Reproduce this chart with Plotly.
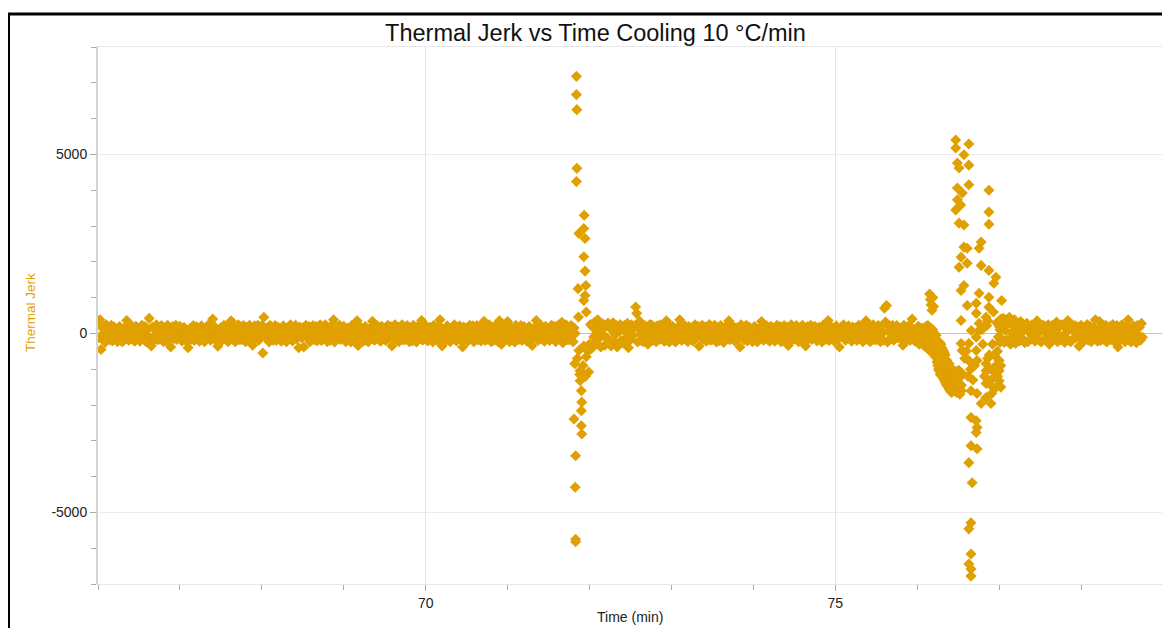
import numpy as np
import plotly.graph_objects as go

# ---------------- data ----------------
SAMPLE_MIN = 0.0125  # logger sampling interval, minutes

band_a_start = 66.0
band_a_jerk = [
    350, -120, 380, -450, 160, -130, 20, -250, 240, -90, 130, -180, 60, 230, -210, -10, 180, -150, 100, -230,
    -50, 190, -200, 130, -230, 30, 160, -120, 360, -30, -190, 150, -80, 210, -170, 90, -220, 200, 10, -150,
    140, -220, 70, 230, -110, -40, 190, -230, 120, -70, 420, -160, -350, 170, -210, 110, -60, 240, -180, 80,
    -160, 100, 220, -50, -230, 150, 20, -210, 230, -100, 150, -380, 40, 190, -150, -30, 230, -170, 110, -80,
    200, -50, -210, 100, 170, -120, 30, -240, -400, -80, 140, -170, 70, 220, -200, 0, 190, -140, 90, -220,
    -70, 210, -180, 110, -230, 50, 160, -100, 240, -30, -190, 130, 400, 210, -150, 70, -220, -360, 10, -130,
    160, -200, 50, 230, -130, -20, 210, -230, 100, -90, 350, -160, 40, 170, -230, 130, -40, 240, -180, 60,
    -180, 80, 220, -70, -230, 170, 0, -190, 230, -120, 130, -330, 60, 210, -130, -30, 230, -190, 90, -100,
    220, -550, 450, 80, 150, -140, 30, -240, 230, -80, 140, -190, 50, 220, -200, -20, 170, -160, 110, -220,
    -50, 210, -180, 130, -230, 30, 180, -100, 240, -30, -210, 150, -60, 230, -150, 70, -400, 180, 10, -130,
    160, -380, 50, 230, -110, -40, 190, -230, 120, -70, 220, -180, 40, 190, -210, 110, -60, 240, -200, 60,
    -160, 80, 240, -50, -230, 150, 20, -190, 210, -120, 380, -240, 60, 190, -150, -10, 230, -170, 90, -100,
    200, -30, -230, 100, 150, -120, 30, -240, 230, -100, 140, -170, 50, 350, -340, 0, 190, -160, 110, -220,
    -70, 190, -200, 110, -230, 50, 160, -120, 340, -10, -190, 130, -80, 210, -170, 90, -220, 200, 10, -150,
    140, -200, 70, 230, -130, -20, 190, -350, 100, -90, 240, -160, 20, 170, -230, 110, -40, 240, -180, 80,
    -180, 100, 220, -70, -230, 150, 0, -210, 230, -100, 130, -240, 40, 210, -130, -30, 360, -190, 90, -80,
    220, -50, -210, 80, 170, -140, 30, -240, 230, -80, 120, -190, 70, 220, 380, 0, -350, -140, 110, -220,
    -50, 210, -180, 130, -230, 30, 180, -120, 240, -30, -210, 150, -60, 210, -170, 90, -380, 180, 0, -130,
    160, -220, 50, 230, -110, -40, 210, -230, 120, -70, 220, -180, 40, 190, -210, 130, -60, 340, -200, 60,
    -160, 80, 240, -50, -230, 170, 20, -190, 210, -120, 150, -240, 350, 190, -300, -10, 230, -170, 100, -100,
    330, -30, -230, 100, 150, -120, 30, -240, 230, -100, 140, -170, 50, 220, -200, 0, 190, -160, 110, -220,
    -70, 190, -200, 110, -340, 50, 160, -120, 360, -10, -190, 130, -80, 210, -170, 90, -220, 200, 10, -150,
    140, -200, 70, 230, -130, -20, 190, -230, 100, -90, 240, -160, 20, 310, -260, 110, -40, 240, -180, 80,
    -180, 100, 220, -70, -230, 150, 0,
]

band_b_start = 72.0
band_b_jerk = [
    -300, 250, -420, 180, -100, 320, -250, 20, 380, -150, 210, -380, 140, 260, -60, -330, 200, -120, 290, -260,
    170, -350, 90, 300, -220, -40, 230, -380, 160, 60, 250, -200, 110, -270, 220, -150, 30, 280, -400, 190,
    -180, 240, -60, 120, 210, 740, 560, -240, 150, 340, -20, -210, 90, -230, 220, -100, 180, -300, 40, 250,
    -110, 230, -190, 160, -30, -230, 210, 70, -170, 240, -140, 180, 0, -220, 120, 350, -200, 90, -240, 190,
    -60, 200, -190, 120, -240, 40, 170, -110, 380, -20, -200, 140, -70, 220, -160, 80, -230, 190, 0, -140,
    150, -210, 60, 240, -120, -30, 200, -360, 110, -80, 230, -170, 30, 180, -220, 120, -50, 250, -190, 70,
    -170, 90, 230, -60, -240, 160, 10, -200, 220, -110, 140, -250, 50, 200, -140, -20, 350, -180, 100, -90,
    210, -40, -220, 90, 160, -130, 20, -380, 240, -90, 130, -180, 60, 230, -210, -10, 180, -150, 100, -230,
    -50, 190, -200, 130, -230, 30, 160, -120, 330, -30, -190, 150, -80, 210, -170, 90, -220, 200, 10, -150,
    140, -220, 70, 230, -110, -40, 190, -230, 120, -70, 220, -160, 40, 170, -340, 110, -60, 240, -180, 80,
    -160, 100, 220, -50, -230, 150, 20, -210, 230, -100, 150, -350, 40, 190, -150, -30, 230, -170, 110, -80,
    200, -50, -210, 100, 170, -120, 30, -240, 230, -80, 140, -170, 70, 360, -200, 0, 190, -140, 90, -220,
    -70, 210, -180, 110, -380, 50, 160, -100, 240, -30, -190, 130, -60, 210, -150, 70, -220, 180, 10, -130,
    160, -200, 50, 230, -130, -20, 210, -230, 100, -90, 350, -160, 40, 170, -230, 130, -40, 240, -180, 60,
    -180, 80, 220, -70, -230, 170, 0, -190, 700, 320, 780, -240, 60, 210, -130, -30, 230, -190, 90, -100,
    220, -130, 50, 150, -140, 30, -330, 230, -80, 140, -190, 50, 220, -200, -20, 400, -160, 110, -220, -50,
    -100, 200, -300, 50, -250, 150, -80, -350, 100,
]

band_c_start = 77.05
band_c_jerk = [
    420, -250, 80, 380, -180, 300, 450, -300, 20, 220, -150, 380, -280, 170, -40, 240, -210, 330, -120, 60,
    200, -260, 150, 280, -230, 30, 190, -160, 240, -80, 210, -220, 130, 350, -10, -190, 180, -240, 110, 230,
    -170, 40, 200, -90, 240, -300, 160, -210, 230, 0, -140, 190, 320, -230, 170, -50, -180, 240, -100, 210,
    -250, 150, 30, 360, -200, 120, -230, 250, -160, 60, 220, -120, -10, 180, -360, 90, 230, -170, 30, -210,
    140, -60, 250, -190, 80, 200, -230, 10, 170, -140, 380, -80, -220, 120, 330, -200, 60, 210, -160, -30,
    230, -240, 100, -100, 190, -180, 40, 250, -210, 130, -50, 220, -380, 160, 0, -170, 240, -120, 80, -230,
    190, -20, 380, -200, 120, -240, 50, 210, -150, 90, -260, 230, -60, 170, -190, 280, -110,
]

spike1_time = [71.84, 71.84, 71.845, 71.845, 71.84, 71.935, 71.93, 71.87, 71.945, 71.93,
               71.945, 71.955, 71.86, 71.945, 71.93, 71.96, 71.865, 71.87, 71.82, 71.885,
               71.99, 71.885, 71.90, 71.905, 71.90, 71.81, 71.90, 71.905, 71.83, 71.825,
               71.83, 71.83, 71.93, 71.96, 71.98, 71.92, 71.95, 71.85, 71.88]
spike1_jerk = [7180, 6670, 6250, 4610, 4240, 3300, 2930, 2790, 2650, 2140,
               1740, 1340, 1250, 1060, 920, 600, 460, -480, -850, -1040,
               -1080, -1320, -1600, -1920, -2160, -2390, -2580, -2810, -3420, -4300,
               -5750, -5820, -350, -650, -500, -900, -1200, -700, -1150]

# onset of the second event: the band bends downwards (three strands of points)
onset_time = [76.11, 76.12, 76.13, 76.14, 76.15, 76.16, 76.17, 76.18, 76.19, 76.20,
              76.21, 76.22, 76.23, 76.24, 76.25, 76.26, 76.27, 76.28, 76.29, 76.30,
              76.31, 76.32, 76.33, 76.34, 76.35, 76.36, 76.37, 76.38, 76.39, 76.40,
              76.42, 76.44, 76.46, 76.48, 76.50, 76.52, 76.54]
onset_upper = [200, 150, 220, 100, 180, 50, 120, -50, 100, -100,
               0, -150, -50, -200, -250, -300, -250, -350, -300, -400,
               -450, -500, -550, -600, -800, -750, -850, -900, -850, -950,
               -1000, -1100, -1050, -1200, -1040, -1230, -1100]
onset_middle = [-50, -150, 0, -200, -100, -250, -150, -300, -200, -350,
                -250, -400, -300, -500, -600, -700, -650, -800, -750, -850,
                -900, -950, -1000, -1050, -1150, -1100, -1200, -1250, -1300, -1350,
                -1400, -1450, -1300, -1500, -1400, -1600, -1450]
onset_lower = [-250, -350, -300, -450, -400, -500, -450, -530, -500, -550,
               -500, -650, -600, -800, -900, -1000, -1050, -1150, -1100, -1180,
               -1200, -1250, -1300, -1350, -1400, -1450, -1460, -1500, -1550, -1600,
               -1650, -1600, -1550, -1650, -1550, -1700, -1600]

precursor_time = [76.15, 76.16, 76.17, 76.18, 76.19, 76.20]
precursor_jerk = [1100, 950, 800, 650, 1000, 750]

spike2_up_time = [76.47, 76.63, 76.47, 76.57, 76.49, 76.63, 76.51, 76.63, 76.49, 76.55,
                  76.49, 76.53, 76.47, 76.51, 76.57, 76.875, 76.875, 76.875, 76.78, 76.755,
                  76.57, 76.61, 76.535, 76.51, 76.61, 76.78, 76.875, 76.96, 76.935, 76.57,
                  76.535, 76.755, 76.875, 77.03, 76.61, 76.72, 76.875, 76.72, 76.535, 76.84,
                  76.755, 76.85, 76.66, 76.755]
spike2_up_jerk = [5400, 5290, 5180, 4990, 4760, 4700, 4620, 4150, 4060, 3920,
                  3730, 3590, 3450, 3080, 3030, 4000, 3390, 3050, 2550, 2380,
                  2410, 2380, 2130, 1850, 1960, 1900, 1760, 1570, 1400, 1340,
                  1200, 1120, 1010, 920, 780, 840, 730, 560, 360, 450,
                  280, 220, 80, 80]

spike2_low_time = [76.535, 76.547, 76.63, 76.72, 76.72, 76.63, 76.73, 76.51, 76.45, 76.84,
                   77.00, 76.84, 77.00, 76.486, 76.656, 76.73, 76.84, 76.96, 77.00, 76.84,
                   76.78, 76.90, 76.91, 76.656, 76.72, 76.73, 76.72, 76.656, 76.73, 76.63,
                   76.67, 76.656, 76.63, 76.656, 76.63, 76.656, 76.656, 76.60, 76.65, 76.68,
                   76.70, 76.80, 76.82, 76.88, 76.92, 76.95, 76.98, 77.00, 77.02, 76.58,
                   76.62, 76.79, 76.86, 76.93, 76.97, 76.99, 76.86, 76.88, 76.90, 76.92,
                   76.94, 76.96, 76.98, 77.02, 77.02]
spike2_low_jerk = [-280, -480, -280, -110, -480, -760, -760, -1040, -1230, -850,
                   -760, -1040, -1040, -1600, -1600, -1680, -1400, -1510, -1320, -1790,
                   -1960, -1960, -1680, -2350, -2440, -2630, -2770, -3140, -3220, -3610,
                   -4170, -5290, -5460, -6160, -6440, -6580, -6780, -500, -1000, -1300,
                   -900, -300, -1200, -600, -300, -1100, -500, 200, -200, -700,
                   -1200, 100, 350, 600, 300, -100, -700, -1000, -1300, -1500,
                   -600, -900, -1200, -900, -1500]

recovery_time = [77.00, 77.01, 77.02, 77.03, 77.04, 77.01]
recovery_jerk = [300, 100, 400, -150, 250, -250]

x_range = [66, 79]
y_range = [-7000, 8000]
y_tick_vals = [-5000, 0, 5000]
y_tick_text = ["-5000", "0", "5000"]

MARKER_COLOR = "#E0A000"

# ---------------- assemble ----------------
def band_times(start, vals):
    return list(start + SAMPLE_MIN * np.arange(len(vals)))


xs, ys = [], []
for start, vals in [(band_a_start, band_a_jerk), (band_b_start, band_b_jerk), (band_c_start, band_c_jerk)]:
    xs += band_times(start, vals)
    ys += list(vals)
for strand in (onset_upper, onset_middle, onset_lower):
    xs += onset_time
    ys += strand
for t, v in [(precursor_time, precursor_jerk), (spike1_time, spike1_jerk),
             (spike2_up_time, spike2_up_jerk), (spike2_low_time, spike2_low_jerk),
             (recovery_time, recovery_jerk)]:
    n = min(len(t), len(v))
    xs += list(t[:n])
    ys += list(v[:n])

fig = go.Figure()
fig.add_trace(go.Scatter(
    x=xs, y=ys, mode="markers",
    marker=dict(symbol="diamond", size=8.5, color=MARKER_COLOR, line=dict(width=0)),
    showlegend=False, hoverinfo="x+y",
))

FONT = "Arial, Liberation Sans, sans-serif"
OFF = 8                      # page body margin of the html page
W, H = 1170 - OFF, 628 - OFF
L, R, T, B = 90, 7, 39, 44   # plot area in figure pixels
pw, ph = W - L - R, H - T - B


def px_x(p):
    """window pixel x -> paper x"""
    return (p - OFF - L) / pw


def px_y(p):
    """window pixel y -> paper y"""
    return (H - B - (p - OFF)) / ph


fig.update_layout(
    width=W, height=H,
    margin=dict(l=L, r=R, t=T, b=B, pad=0),
    paper_bgcolor="white", plot_bgcolor="white",
    font=dict(family=FONT, color="#222"),
    title=dict(text="Thermal Jerk vs Time Cooling 10 °C/min",
               font=dict(size=23.5, color="#111", family=FONT),
               xref="paper", x=px_x(595.5), xanchor="center",
               yref="container", y=1 - (33 - OFF) / H, yanchor="middle"),
    xaxis=dict(range=x_range, tickmode="linear", tick0=0, dtick=5,
               ticks="outside", ticklen=6, tickcolor="#aaa", tickwidth=1,
               tickfont=dict(size=14, color="#222"),
               showgrid=True, gridcolor="#e4e4e4", gridwidth=1,
               zeroline=False, showline=True, linecolor="#e8e8e8", linewidth=1, mirror=True,
               minor=dict(tickmode="linear", tick0=0, dtick=1, ticks="outside", ticklen=5,
                          tickcolor="#aaa", showgrid=False)),
    yaxis=dict(range=y_range, tickmode="array", tickvals=y_tick_vals, ticktext=y_tick_text,
               ticks="outside", ticklen=6, tickcolor="#aaa", tickwidth=1,
               tickfont=dict(size=14, color="#222"),
               showgrid=True, gridcolor="#ececec", gridwidth=1,
               zeroline=True, zerolinecolor="#c4c4c4", zerolinewidth=1,
               showline=True, linecolor="#d2d2d2", linewidth=2, mirror=False,
               minor=dict(tickmode="linear", tick0=0, dtick=1000, ticks="outside", ticklen=5,
                          tickcolor="#aaa", showgrid=False)),
    annotations=[
        dict(text="Time (min)", xref="paper", yref="paper", x=px_x(630), y=px_y(617),
             xanchor="center", yanchor="middle", showarrow=False,
             font=dict(size=14, color="#222", family=FONT)),
        dict(text="Thermal Jerk", xref="paper", yref="paper", x=px_x(30), y=px_y(313),
             xanchor="center", yanchor="middle", showarrow=False, textangle=-90,
             font=dict(size=13.5, color=MARKER_COLOR, family=FONT)),
    ],
    shapes=[
        dict(type="line", xref="paper", yref="paper",
             x0=px_x(7), x1=px_x(1180), y0=px_y(14), y1=px_y(14),
             line=dict(color="black", width=3)),
        dict(type="line", xref="paper", yref="paper",
             x0=px_x(8.5), x1=px_x(8.5), y0=px_y(13), y1=px_y(650),
             line=dict(color="black", width=3)),
    ],
)

fig.write_html("out.html")
